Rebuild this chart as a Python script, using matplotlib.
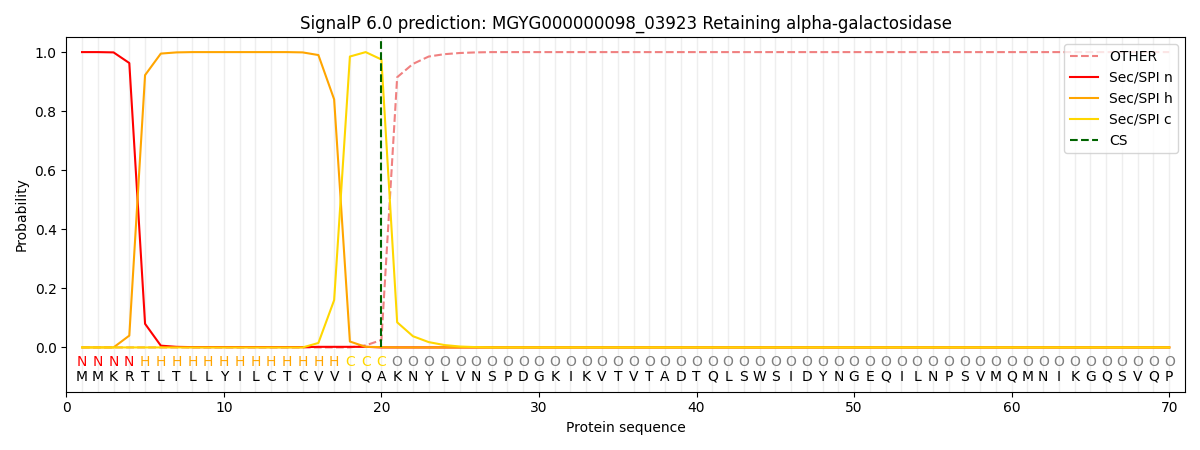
import matplotlib
matplotlib.use("Agg")
import matplotlib.pyplot as plt
import numpy as np


# Sequence and per-residue labels.
sequence = list("MMKRTLTLLYILCTCVVIQAKNYLVNSPDGKIKVTVTADTQLSWSIDYNGEQILNPSVMQMNIKGQSVQP")
labels = list("NNNN" + "H" * 13 + "CCC" + "O" * 50)

# Probabilities (positions 1..70).
prob_n = [1.0, 1.0, 0.999, 0.963, 0.08, 0.006, 0.002, 0.001, 0.001, 0.001,
          0.001, 0.001, 0.001, 0.001, 0.001, 0.002, 0.002, 0.002, 0.002, 0.0] + [0.0] * 50
prob_h = [0.0, 0.0, 0.0, 0.04, 0.922, 0.995, 0.999, 1.0, 1.0, 1.0,
          1.0, 1.0, 1.0, 1.0, 0.999, 0.99, 0.84, 0.02, 0.002, 0.001] + [0.0] * 50
prob_c = [0.0] * 15 + [0.015, 0.16, 0.985, 1.0, 0.975, 0.085, 0.038, 0.018, 0.008, 0.003, 0.001] + [0.0] * 44
prob_other = [0.0] * 18 + [0.007, 0.025, 0.915, 0.96, 0.985, 0.993, 0.997, 0.999] + [1.0] * 44
cs_pos = 20

label_colors = {"N": "red", "H": "orange", "C": "gold", "O": "gray"}

positions = np.arange(1, len(sequence) + 1)

fig, ax = plt.subplots(figsize=(12, 4.5), dpi=100)

for p in positions:
	ax.axvline(p, color="#eeeeee", linewidth=1, zorder=0)

ax.plot(positions, prob_other, color="lightcoral", linestyle="--", label="OTHER")
ax.plot(positions, prob_n, color="red", label="Sec/SPI n")
ax.plot(positions, prob_h, color="orange", label="Sec/SPI h")
ax.plot(positions, prob_c, color="gold", label="Sec/SPI c")
ax.vlines(cs_pos, 0, 1.04, color="darkgreen", linestyle="--", label="CS")

for p, lab, aa in zip(positions, labels, sequence):
	ax.text(p, -0.05, lab, color=label_colors[lab], ha="center", va="center", fontsize=10)
	ax.text(p, -0.1, aa, color="black", ha="center", va="center", fontsize=10)

ax.set_xlim(0, len(sequence) + 1)
ax.set_ylim(-0.15, 1.05)
ax.set_xlabel("Protein sequence")
ax.set_ylabel("Probability")
ax.set_title("SignalP 6.0 prediction: MGYG000000098_03923 Retaining alpha-galactosidase")
ax.legend(loc="upper right")

plt.tight_layout()
plt.savefig("out.png")
